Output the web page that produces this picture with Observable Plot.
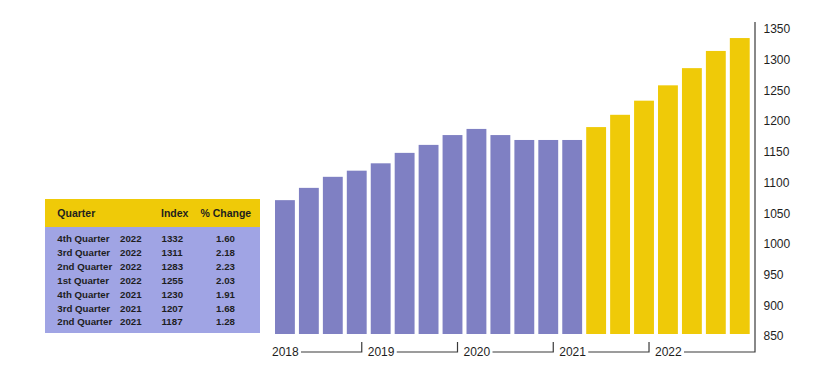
<!DOCTYPE html>
<html>
<head>
<meta charset="utf-8">
<script src="https://cdn.jsdelivr.net/npm/d3@7"></script>
<script src="https://cdn.jsdelivr.net/npm/@observablehq/plot@0.6"></script>
<style>
  html, body { margin: 0; padding: 0; background: #fff; }
  #wrap { position: relative; width: 840px; height: 374px; }
  #wrap svg { position: absolute; left: 0; top: 0; }
  #tbl { position: absolute; left: 45px; top: 199px; width: 215px;
         font-family: "Liberation Sans", Arial, sans-serif; font-weight: bold; color: #1e1e1e; }
  #tbl .head { position: relative; height: 28px; background: #efca08; font-size: 10.5px; }
  #tbl .body { position: relative; height: 106px; background: #a0a4e4; font-size: 9.7px; }
  #tbl span { position: absolute; white-space: nowrap; line-height: 14px; }
</style>
</head>
<body>
<div id="wrap"></div>
<script>
// ---- data ----
const quarters = [
  "2018 Q1","2018 Q2","2018 Q3","2018 Q4",
  "2019 Q1","2019 Q2","2019 Q3","2019 Q4",
  "2020 Q1","2020 Q2","2020 Q3","2020 Q4",
  "2021 Q1","2021 Q2","2021 Q3","2021 Q4",
  "2022 Q1","2022 Q2","2022 Q3","2022 Q4"
];
const indexValues = [
  1068, 1088, 1106, 1116,
  1128, 1145, 1158, 1174,
  1184, 1174, 1166, 1166,
  1166, 1187, 1207, 1230,
  1255, 1283, 1311, 1332
];
const years = ["2018", "2019", "2020", "2021", "2022"];
const yTicks = [850, 900, 950, 1000, 1050, 1100, 1150, 1200, 1250, 1300, 1350];

const tableHeader = ["Quarter", "Index", "% Change"];
const tableQuarter = ["4th Quarter","3rd Quarter","2nd Quarter","1st Quarter","4th Quarter","3rd Quarter","2nd Quarter"];
const tableYear = ["2022","2022","2022","2022","2021","2021","2021"];
const tableIndex = [1332, 1311, 1283, 1255, 1230, 1207, 1187];
const tableChange = ["1.60","2.18","2.23","2.03","1.91","1.68","1.28"];

const purple = "#7f80c3";
const yellow = "#efca08";
const ink = "#1e1e1e";

// ---- chart ----
const nRecent = tableIndex.length;
const data = quarters.map((q, i) => ({
  q, v: indexValues[i],
  g: i >= quarters.length - nRecent ? "recent" : "history"
}));
const yMin = yTicks[0];

function yearBrackets(index, scales, values, dims) {
  const x = scales.x, y = scales.y;
  const g = d3.create("svg:g").attr("text-anchor", "start");
  const base = y(yMin) + 18;
  years.forEach((yr, k) => {
    const first = quarters.find(q => q.startsWith(yr));
    const x0 = x(first);
    const next = k + 1 < years.length ? quarters.find(q => q.startsWith(years[k + 1])) : null;
    const xEnd = next ? x(next) - 9 : dims.width - dims.marginRight;
    const yTop = next ? base - 10 : dims.marginTop - 5;
    g.append("text")
      .attr("x", x0 - 3).attr("y", base).attr("dy", "0.36em")
      .attr("text-anchor", "start")
      .attr("fill", ink).attr("font-size", 12)
      .text(yr);
    g.append("path")
      .attr("d", `M${x0 + 26},${base}H${xEnd}V${yTop}`)
      .attr("fill", "none").attr("stroke", "#3a3a3a").attr("stroke-width", 1.2);
  });
  return g.node();
}

const chart = Plot.plot({
  width: 840,
  height: 374,
  marginLeft: 275,
  marginRight: 85,
  marginTop: 27,
  marginBottom: 40,
  style: { fontFamily: "'Liberation Sans', Arial, sans-serif", fontSize: "12px", color: ink, background: "transparent" },
  x: { type: "band", domain: quarters, paddingInner: 0.17, paddingOuter: 0, round: false, insetRight: 5.3, axis: null },
  y: { domain: [yMin, yTicks[yTicks.length - 1]], axis: null },
  color: { domain: ["history", "recent"], range: [purple, yellow] },
  marks: [
    Plot.barY(data, { x: "q", y1: yMin, y2: "v", fill: "g" }),
    Plot.axisY(yTicks, { anchor: "right", label: null, tickSize: 0, tickPadding: 8, dy: 2, tickFormat: "d", fill: ink, fontSize: 12 }),
    yearBrackets
  ]
});
const wrap = document.getElementById("wrap");
wrap.appendChild(chart);

// ---- table ----
const tbl = d3.select(wrap).append("div").attr("id", "tbl");
const head = tbl.append("div").attr("class", "head");
head.append("span").style("left", "12.3px").style("top", "7px").text(tableHeader[0]);
head.append("span").style("left", "116px").style("top", "7px").text(tableHeader[1]);
head.append("span").style("left", "180.8px").style("top", "7px").style("transform", "translateX(-50%)").text(tableHeader[2]);
const body = tbl.append("div").attr("class", "body");
tableQuarter.forEach((q, i) => {
  const top = 5.4 + i * 13.83;
  body.append("span").style("left", "12.3px").style("top", top + "px").text(q);
  body.append("span").style("left", "75px").style("top", top + "px").text(tableYear[i]);
  body.append("span").style("left", "116.5px").style("top", top + "px").text(tableIndex[i]);
  body.append("span").style("left", "180.5px").style("top", top + "px").style("transform", "translateX(-50%)").text(tableChange[i]);
});
</script>
</body>
</html>
